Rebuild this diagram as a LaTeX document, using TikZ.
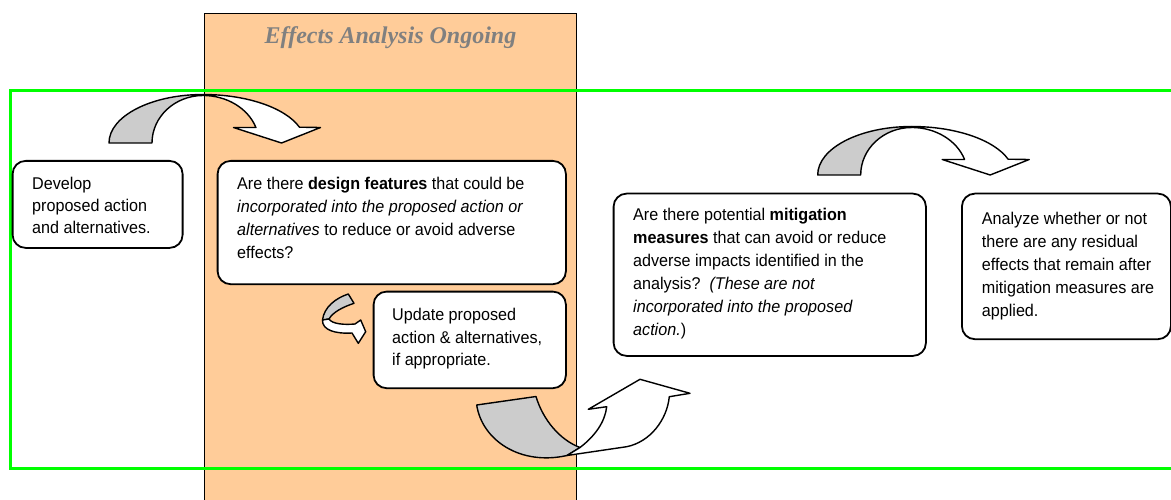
\documentclass[tikz,border=0pt]{standalone}
\usepackage{fontspec}
\setmainfont[FakeStretch=0.95]{Liberation Sans}
\newfontfamily\titlefont{Liberation Serif}
\definecolor{orangebg}{RGB}{255,204,153}
\definecolor{arrowgray}{RGB}{204,204,204}
\definecolor{titlegray}{RGB}{128,128,128}
\definecolor{framegreen}{RGB}{0,255,0}
\tikzset{
  box/.style={draw=black, line width=1.8pt, rounded corners=13pt, fill=white, anchor=north west, inner sep=0pt},
  txt/.style={anchor=north west, align=left, inner sep=0pt, font=\fontsize{17}{23}\selectfont, text=black},
  arrowline/.style={draw=black, line width=1.4pt, line join=round},
  pics/bigcurve/.style={code={
    \draw[arrowline, fill=arrowgray] (-94,0) arc[start angle=180,end angle=270,x radius=94,y radius=48.5]
      -- (0,-47.5) arc[start angle=270,end angle=180,x radius=51,y radius=47.5] -- cycle;
    \draw[arrowline, fill=white] (0,-48.5) arc[start angle=270,end angle=341,x radius=102,y radius=48.5]
      -- (117.5,-15.5) -- (78.5,0) -- (30.5,-15.5) -- (52.9,-15.5)
      arc[start angle=341,end angle=270,x radius=56,y radius=47.5] -- cycle;
  }}
}
\begin{document}
\begin{tikzpicture}[x=1pt,y=-1pt]
\useasboundingbox (0,0) rectangle (1171,500);
\clip (0,0) rectangle (1171,500);
% background panel
\draw[fill=orangebg, line width=1.5pt] (204.5,13.5) rectangle (576.5,510);
\node[font=\titlefont\bfseries\itshape\fontsize{24}{28}\selectfont, text=titlegray, anchor=base] (title) at (390.5,44) {Effects Analysis Ongoing};
% green frame
\draw[framegreen, line width=3pt] (10,91) rectangle (1185,468);
% boxes
\node[box, minimum width=170pt, minimum height=87pt] (dev) at (11.7,160) {};
\node[txt, font=\fontsize{17}{22}\selectfont] (devt) at (32,177) {Develop\\proposed action\\and alternatives.};
\node[box, minimum width=348.3pt, minimum height=123.3pt] (des) at (216.7,160) {};
\node[txt] (dest) at (237,177) {Are there \textbf{design features} that could be\\\textit{incorporated into the proposed action or}\\\textit{alternatives} to reduce or avoid adverse\\effects?};
\node[box, minimum width=192.3pt, minimum height=96.6pt] (upd) at (372.7,290.7) {};
\node[txt, font=\fontsize{17}{22.5}\selectfont] (updt) at (392,308.4) {Update proposed\\action \& alternatives,\\if appropriate.};
\node[box, minimum width=312.3pt, minimum height=162.3pt] (mit) at (612.7,192.7) {};
\node[txt] (mitt) at (633,207.7) {Are there potential \textbf{mitigation}\\\textbf{measures} that can avoid or reduce\\adverse impacts identified in the\\analysis?\ \ \textit{(These are not}\\\textit{incorporated into the proposed}\\\textit{action.})};
\node[box, minimum width=209pt, minimum height=145.6pt] (ana) at (961,192.7) {};
\node[txt] (anat) at (981.7,211.5) {Analyze whether or not\\there are any residual\\effects that remain after\\mitigation measures are\\applied.};
% curved arrows
\pic at (203,143) {bigcurve};
\pic at (911.7,175) {bigcurve};
% small arrow
\draw[arrowline, fill=arrowgray] (348.3,294) -- (354,303.3) .. controls (343,307) and (333,312) .. (329,319)
  -- (322.5,320) .. controls (324,307) and (336,298) .. (348.3,294) -- cycle;
\draw[arrowline, fill=white] (322.5,320) .. controls (322,330) and (335,334) .. (352,333)
  -- (358.3,343.3) -- (365.7,331.7) -- (360.7,320) -- (355,324)
  .. controls (344,325) and (332,324) .. (329,319) -- cycle;
% bottom curved up arrow
\draw[arrowline, fill=arrowgray] (476.7,405) -- (536,396.5) .. controls (543,420) and (560,440) .. (580,447.5)
  -- (567,455.5) .. controls (520,466) and (482,440) .. (476.7,405) -- cycle;
\draw[arrowline, fill=white] (567,455.5) -- (580,447.5) .. controls (595,436) and (605,422) .. (606.7,406.7)
  -- (588.3,409.3) -- (640,379.3) -- (690,393.3) -- (669.3,396.7)
  .. controls (667,420) and (650,442) .. (626.7,446.7) -- cycle;
\end{tikzpicture}
\end{document}
